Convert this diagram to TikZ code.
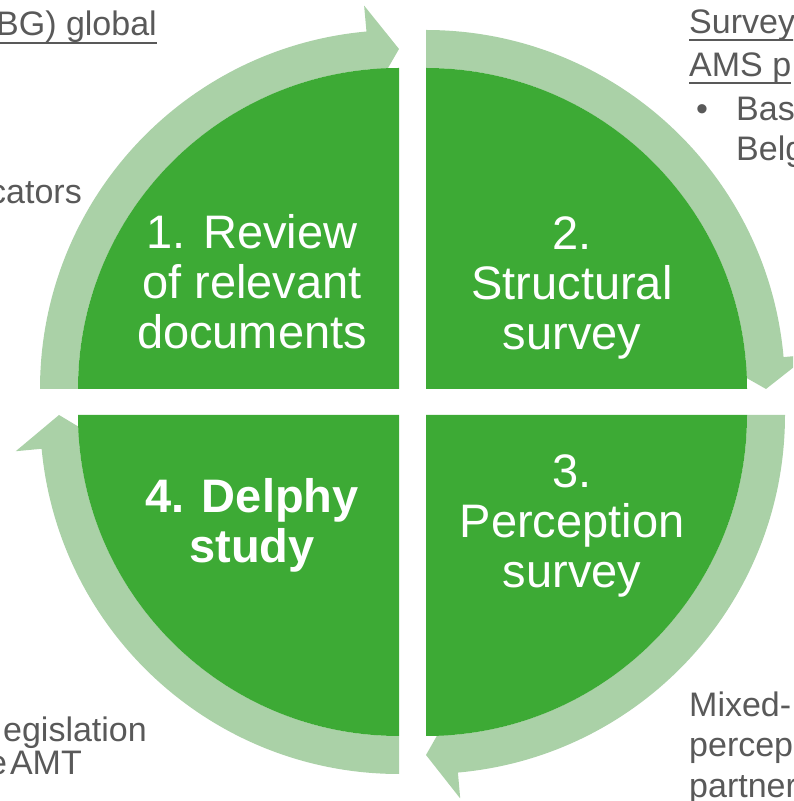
\documentclass[tikz,border=0pt]{standalone}
\usepackage{fontspec}
\setmainfont{Liberation Sans}
\definecolor{dkgreen}{RGB}{61,170,53}
\definecolor{ltgreen}{RGB}{170,209,167}
\definecolor{txtgray}{RGB}{89,89,89}
\tikzset{
  quad/.style={fill=dkgreen},
  ring/.style={fill=ltgreen},
  qtext/.style={text=white,align=center,inner sep=0pt,font=\fontsize{47}{50}\selectfont},
  side/.style={text=txtgray,inner sep=0pt,font=\fontsize{34}{40}\selectfont},
  uline/.style={draw=txtgray,line width=1.8pt}
}
\begin{document}
\begin{tikzpicture}[x=1pt,y=1pt]
\useasboundingbox (0,0) rectangle (793,801);
\clip (0,0) rectangle (793,801);
% quadrant 1 (top left)
\begin{scope}[shift={(399,412)}]
  \fill[ring] (180:321) -- (180:359) arc[start angle=180,end angle=95.2,radius=359]
    -- (95.2:385) -- (90:340) -- (95.2:295) -- (95.2:321)
    arc[start angle=95.2,end angle=180,radius=321] -- cycle;
  \fill[quad] (0,0) -- (180:321) arc[start angle=180,end angle=90,radius=321] -- cycle;
\end{scope}
% quadrant 2 (top right)
\begin{scope}[shift={(426,412)}]
  \fill[ring] (90:321) -- (90:359) arc[start angle=90,end angle=5.1,radius=359]
    -- (5.1:385) -- (0:340) -- (5.1:295) -- (5.1:321)
    arc[start angle=5.1,end angle=90,radius=321] -- cycle;
  \fill[quad] (0,0) -- (90:321) arc[start angle=90,end angle=0,radius=321] -- cycle;
\end{scope}
% quadrant 3 (bottom right)
\begin{scope}[shift={(426,386)}]
  \fill[ring] (0:321) -- (0:359) arc[start angle=0,end angle=-84.9,radius=359]
    -- (-84.9:385) -- (-90:340) -- (-84.9:295) -- (-84.9:321)
    arc[start angle=-84.9,end angle=0,radius=321] -- cycle;
  \fill[quad] (0,0) -- (0:321) arc[start angle=0,end angle=-90,radius=321] -- cycle;
\end{scope}
% quadrant 4 (bottom left)
\begin{scope}[shift={(399,386)}]
  \fill[ring] (270:321) -- (270:359) arc[start angle=270,end angle=185.4,radius=359]
    -- (185.4:385) -- (180:340) -- (185.4:295) -- (185.4:321)
    arc[start angle=185.4,end angle=270,radius=321] -- cycle;
  \fill[quad] (0,0) -- (270:321) arc[start angle=270,end angle=180,radius=321] -- cycle;
\end{scope}
% quadrant texts
\node[qtext] (t1) at (252,519) {1. Review\\of relevant\\documents};
\node[qtext] (t2) at (572,513) {2.\\Structural\\survey};
\node[qtext] (t3) at (572,275) {3.\\Perception\\survey};
\node[qtext,font=\fontsize{47}{50}\selectfont\bfseries] (t4) at (252,276) {4. Delphy\\study};
% side texts
\node[side,anchor=base east] (s1) at (157,765) {BG) global};
\draw[uline] ([yshift=-7pt]s1.base west) -- ([yshift=-7pt]s1.base east);
\node[side,anchor=base east] (s2) at (82,597) {cators};
\node[side,anchor=base east] (s3) at (147,59) {egislation};
\node[side,anchor=base east] (s4) at (82,27) {e\hspace{3pt}AMT};
\node[side,anchor=base west] (s5) at (689,767) {Survey};
\draw[uline] ([yshift=-6pt]s5.base west) -- ([yshift=-6pt]s5.base east);
\node[side,anchor=base west] (s6) at (689,724) {AMS p};
\draw[uline] ([yshift=-6pt]s6.base west) -- ([yshift=-6pt]s6.base east);
\node[side,anchor=base west] (s7) at (696,680) {•};
\node[side,anchor=base west] (s8) at (736,680) {Bas};
\node[side,anchor=base west] (s9) at (736,640) {Belg};
\node[side,anchor=base west] (s10) at (689,84) {Mixed-};
\node[side,anchor=base west] (s11) at (689,44) {percep};
\node[side,anchor=base west] (s12) at (689,4) {partner};
\end{tikzpicture}
\end{document}
